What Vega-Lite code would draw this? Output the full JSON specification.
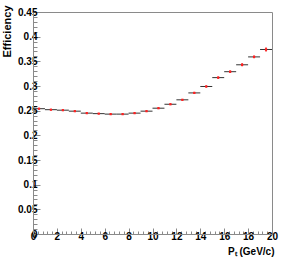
{
  "$schema": "https://vega.github.io/schema/vega-lite/v6.json",
  "width": 239,
  "height": 222,
  "autosize": "none",
  "padding": {"left": 33, "top": 12, "right": 9, "bottom": 30},
  "background": "white",
  "config": {
    "view": {"stroke": "#8a8a8a", "strokeWidth": 1},
    "axis": {
      "labelFont": "Liberation Sans",
      "labelFontWeight": "bold",
      "labelFontSize": 10,
      "labelColor": "black",
      "titleFont": "Liberation Sans",
      "titleFontWeight": "bold",
      "titleColor": "black",
      "domainColor": "#8a8a8a",
      "tickColor": "#8a8a8a",
      "grid": false,
      "labelOverlap": false,
      "labelFlush": false
    }
  },
  "data": {
    "values": [
      {"pt": 0.5, "xlo": 0, "xhi": 1, "eff": 0.254, "ylo": 0.253, "yhi": 0.255},
      {"pt": 1.5, "xlo": 1, "xhi": 2, "eff": 0.252, "ylo": 0.251, "yhi": 0.253},
      {"pt": 2.5, "xlo": 2, "xhi": 3, "eff": 0.251, "ylo": 0.250, "yhi": 0.252},
      {"pt": 3.5, "xlo": 3, "xhi": 4, "eff": 0.249, "ylo": 0.248, "yhi": 0.250},
      {"pt": 4.5, "xlo": 4, "xhi": 5, "eff": 0.245, "ylo": 0.244, "yhi": 0.246},
      {"pt": 5.5, "xlo": 5, "xhi": 6, "eff": 0.244, "ylo": 0.243, "yhi": 0.245},
      {"pt": 6.5, "xlo": 6, "xhi": 7, "eff": 0.243, "ylo": 0.242, "yhi": 0.244},
      {"pt": 7.5, "xlo": 7, "xhi": 8, "eff": 0.243, "ylo": 0.242, "yhi": 0.244},
      {"pt": 8.5, "xlo": 8, "xhi": 9, "eff": 0.245, "ylo": 0.244, "yhi": 0.246},
      {"pt": 9.5, "xlo": 9, "xhi": 10, "eff": 0.249, "ylo": 0.248, "yhi": 0.250},
      {"pt": 10.5, "xlo": 10, "xhi": 11, "eff": 0.255, "ylo": 0.2535, "yhi": 0.2565},
      {"pt": 11.5, "xlo": 11, "xhi": 12, "eff": 0.263, "ylo": 0.2615, "yhi": 0.2645},
      {"pt": 12.5, "xlo": 12, "xhi": 13, "eff": 0.272, "ylo": 0.2705, "yhi": 0.2735},
      {"pt": 13.5, "xlo": 13, "xhi": 14, "eff": 0.286, "ylo": 0.284, "yhi": 0.288},
      {"pt": 14.5, "xlo": 14, "xhi": 15, "eff": 0.299, "ylo": 0.297, "yhi": 0.301},
      {"pt": 15.5, "xlo": 15, "xhi": 16, "eff": 0.317, "ylo": 0.3145, "yhi": 0.3195},
      {"pt": 16.5, "xlo": 16, "xhi": 17, "eff": 0.329, "ylo": 0.3265, "yhi": 0.3315},
      {"pt": 17.5, "xlo": 17, "xhi": 18, "eff": 0.343, "ylo": 0.340, "yhi": 0.346},
      {"pt": 18.5, "xlo": 18, "xhi": 19, "eff": 0.359, "ylo": 0.356, "yhi": 0.362},
      {"pt": 19.5, "xlo": 19, "xhi": 20, "eff": 0.374, "ylo": 0.370, "yhi": 0.378}
    ]
  },
  "layer": [
    {
      "mark": {"type": "rule", "color": "#333333", "strokeWidth": 1},
      "encoding": {
        "x": {
          "field": "xlo", "type": "quantitative",
          "scale": {"domain": [0, 20], "nice": false, "zero": false},
          "axis": {
            "values": [0,0.4,0.8,1.2,1.6,2,2.4,2.8,3.2,3.6,4,4.4,4.8,5.2,5.6,6,6.4,6.8,7.2,7.6,8,8.4,8.8,9.2,9.6,10,10.4,10.8,11.2,11.6,12,12.4,12.8,13.2,13.6,14,14.4,14.8,15.2,15.6,16,16.4,16.8,17.2,17.6,18,18.4,18.8,19.2,19.6,20],
            "tickCount": 200,
            "format": "~g",
            "labelOverlap": false,
            "labelFlush": false,
            "labelExpr": "abs(datum.value / 2 - round(datum.value / 2)) < 0.001 ? datum.label : ''",
            "tickSize": {"condition": {"test": "abs(datum.value / 2 - round(datum.value / 2)) < 0.001", "value": -6}, "value": -3},
            "labelPadding": 3,
            "title": "Pₜ (GeV/c)",
            "titleFontSize": 10,
            "titleAlign": "right",
            "titleAnchor": "end",
            "titleX": 241,
            "titleY": 20,
            "titleBaseline": "alphabetic"
          }
        },
        "x2": {"field": "xhi"},
        "y": {
          "field": "eff", "type": "quantitative",
          "scale": {"domain": [0, 0.45], "nice": false, "zero": false},
          "axis": {
            "values": [0,0.01,0.02,0.03,0.04,0.05,0.06,0.07,0.08,0.09,0.1,0.11,0.12,0.13,0.14,0.15,0.16,0.17,0.18,0.19,0.2,0.21,0.22,0.23,0.24,0.25,0.26,0.27,0.28,0.29,0.3,0.31,0.32,0.33,0.34,0.35,0.36,0.37,0.38,0.39,0.4,0.41,0.42,0.43,0.44,0.45],
            "tickCount": 200,
            "format": "~g",
            "labelOverlap": false,
            "labelFlush": false,
            "labelExpr": "abs(datum.value * 20 - round(datum.value * 20)) < 0.0001 ? datum.label : ''",
            "tickSize": {"condition": {"test": "abs(datum.value * 20 - round(datum.value * 20)) < 0.0001", "value": -7}, "value": -4},
            "labelPadding": 3,
            "title": "Efficiency",
            "titleFontSize": 11,
            "titleAlign": "right",
            "titleAngle": -90,
            "titleX": -26,
            "titleY": -7,
            "titleBaseline": "middle"
          }
        }
      }
    },
    {
      "mark": {"type": "rule", "color": "#ee1111", "strokeWidth": 1.5},
      "encoding": {
        "x": {"field": "pt", "type": "quantitative"},
        "y": {"field": "ylo", "type": "quantitative"},
        "y2": {"field": "yhi"}
      }
    },
    {
      "mark": {"type": "point", "shape": "square", "filled": true, "color": "#ff2020", "size": 5, "opacity": 1},
      "encoding": {
        "x": {"field": "pt", "type": "quantitative"},
        "y": {"field": "eff", "type": "quantitative"}
      }
    }
  ]
}
